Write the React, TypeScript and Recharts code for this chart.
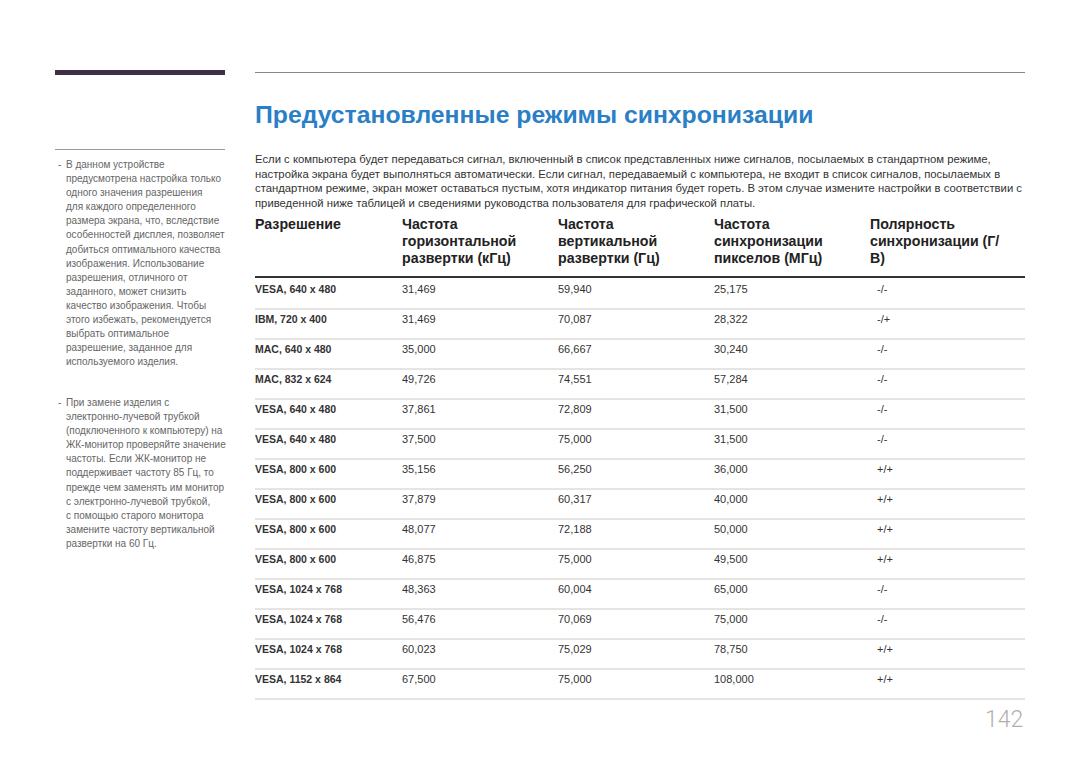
import React from "react";
import { ScatterChart, Scatter, XAxis, YAxis, ReferenceLine } from "recharts";

const resolutions = [
  "VESA, 640 x 480", "IBM, 720 x 400", "MAC, 640 x 480", "MAC, 832 x 624",
  "VESA, 640 x 480", "VESA, 640 x 480", "VESA, 800 x 600", "VESA, 800 x 600",
  "VESA, 800 x 600", "VESA, 800 x 600", "VESA, 1024 x 768", "VESA, 1024 x 768",
  "VESA, 1024 x 768", "VESA, 1152 x 864",
];
const hFreq = ["31,469", "31,469", "35,000", "49,726", "37,861", "37,500", "35,156", "37,879", "48,077", "46,875", "48,363", "56,476", "60,023", "67,500"];
const vFreq = ["59,940", "70,087", "66,667", "74,551", "72,809", "75,000", "56,250", "60,317", "72,188", "75,000", "60,004", "70,069", "75,029", "75,000"];
const pixelClock = ["25,175", "28,322", "30,240", "57,284", "31,500", "31,500", "36,000", "40,000", "50,000", "49,500", "65,000", "75,000", "78,750", "108,000"];
const polarity = ["-/-", "-/+", "-/-", "-/-", "-/-", "-/-", "+/+", "+/+", "+/+", "+/+", "-/-", "-/-", "+/+", "+/+"];

const headers = [
  ["Разрешение"],
  ["Частота", "горизонтальной", "развертки (кГц)"],
  ["Частота", "вертикальной", "развертки (Гц)"],
  ["Частота", "синхронизации", "пикселов (МГц)"],
  ["Полярность", "синхронизации (Г/", "В)"],
];

const intro = [
  "Если с компьютера будет передаваться сигнал, включенный в список представленных ниже сигналов, посылаемых в стандартном режиме,",
  "настройка экрана будет выполняться автоматически. Если сигнал, передаваемый с компьютера, не входит в список сигналов, посылаемых в",
  "стандартном режиме, экран может оставаться пустым, хотя индикатор питания будет гореть. В этом случае измените настройки в соответствии с",
  "приведенной ниже таблицей и сведениями руководства пользователя для графической платы.",
];

const note1 = [
  "В данном устройстве",
  "предусмотрена настройка только",
  "одного значения разрешения",
  "для каждого определенного",
  "размера экрана, что, вследствие",
  "особенностей дисплея, позволяет",
  "добиться оптимального качества",
  "изображения. Использование",
  "разрешения, отличного от",
  "заданного, может снизить",
  "качество изображения. Чтобы",
  "этого избежать, рекомендуется",
  "выбрать оптимальное",
  "разрешение, заданное для",
  "используемого изделия.",
];
const note2 = [
  "При замене изделия с",
  "электронно-лучевой трубкой",
  "(подключенного к компьютеру) на",
  "ЖК-монитор проверяйте значение",
  "частоты. Если ЖК-монитор не",
  "поддерживает частоту 85 Гц, то",
  "прежде чем заменять им монитор",
  "с электронно-лучевой трубкой,",
  "с помощью старого монитора",
  "замените частоту вертикальной",
  "развертки на 60 Гц.",
];

const FONT = '"Liberation Sans", Arial, sans-serif';
const COL_X = [0, 147, 303, 459, 615];
const VAL_X = [0, 147, 303, 459, 622];
const columns = [resolutions, hFreq, vFreq, pixelClock, polarity];

const Note = ({ lines, top }) => (
  <div style={{ position: "absolute", left: 55, top, width: 175, fontSize: 10, lineHeight: "14.1px", color: "#666" }}>
    <span style={{ position: "absolute", left: 3, top: 0 }}>-</span>
    {lines.map((l, i) => (
      <div key={i} style={{ paddingLeft: 11, whiteSpace: "nowrap" }}>{l}</div>
    ))}
  </div>
);

const CellText = (col) => (props) => {
  const { cx, cy, payload } = props;
  const bold = col === 0;
  return (
    <text
      x={cx}
      y={cy + 13.5}
      fontSize={bold ? 10.5 : 11}
      fontWeight={bold ? 700 : 400}
      fill="#333"
      fontFamily={FONT}
    >
      {payload.label}
    </text>
  );
};

export default function App() {
  const rowCount = resolutions.length;
  return (
    <div style={{ position: "absolute", left: 0, top: 0, width: 1080, height: 763, background: "#fff", fontFamily: FONT }}>
      <div style={{ position: "absolute", left: 55, top: 70, width: 170, height: 5, background: "#3e2f45" }} />
      <div style={{ position: "absolute", left: 55, top: 149, width: 170, height: 1, background: "#999" }} />
      <Note lines={note1} top={158} />
      <Note lines={note2} top={396} />

      <div style={{ position: "absolute", left: 255, top: 72, width: 770, height: 1, background: "#888" }} />
      <div style={{ position: "absolute", left: 255, top: 101, fontSize: 24.75, fontWeight: 700, color: "#2a7fc6", whiteSpace: "nowrap" }}>
        Предустановленные режимы синхронизации
      </div>
      <div style={{ position: "absolute", left: 255, top: 152, fontSize: 11.3, lineHeight: "14.5px", color: "#333" }}>
        {intro.map((l, i) => (
          <div key={i} style={{ whiteSpace: "nowrap" }}>{l}</div>
        ))}
      </div>

      {headers.map((h, i) => (
        <div key={i} style={{ position: "absolute", left: 255 + COL_X[i], top: 216, fontSize: 14.2, lineHeight: "17px", fontWeight: 700, color: "#222", whiteSpace: "nowrap" }}>
          {h.map((l, j) => <div key={j}>{l}</div>)}
        </div>
      ))}
      <div style={{ position: "absolute", left: 255, top: 276, width: 770, height: 2, background: "#333" }} />

      <div style={{ position: "absolute", left: 255, top: 276 }}>
        <ScatterChart width={770} height={426} margin={{ top: 0, right: 0, bottom: 0, left: 0 }}>
          <XAxis type="number" dataKey="x" domain={[0, 770]} hide />
          <YAxis type="number" dataKey="y" domain={[-0.1, rowCount + 0.1]} reversed hide />
          {Array.from({ length: rowCount }, (_, i) => (
            <ReferenceLine key={i} y={i + 1} stroke="#cfc8c8" strokeWidth={1} />
          ))}
          {columns.map((col, c) => (
            <Scatter
              key={c}
              data={col.map((label, i) => ({ x: VAL_X[c], y: i, label }))}
              shape={CellText(c)}
              isAnimationActive={false}
            />
          ))}
        </ScatterChart>
      </div>

      <div style={{ position: "absolute", left: 985, top: 706, fontSize: 23, color: "#b0b0b0", fontFamily: '"DejaVu Sans ExtraLight", Roboto, sans-serif', fontWeight: 300 }}>
        142
      </div>
    </div>
  );
}
